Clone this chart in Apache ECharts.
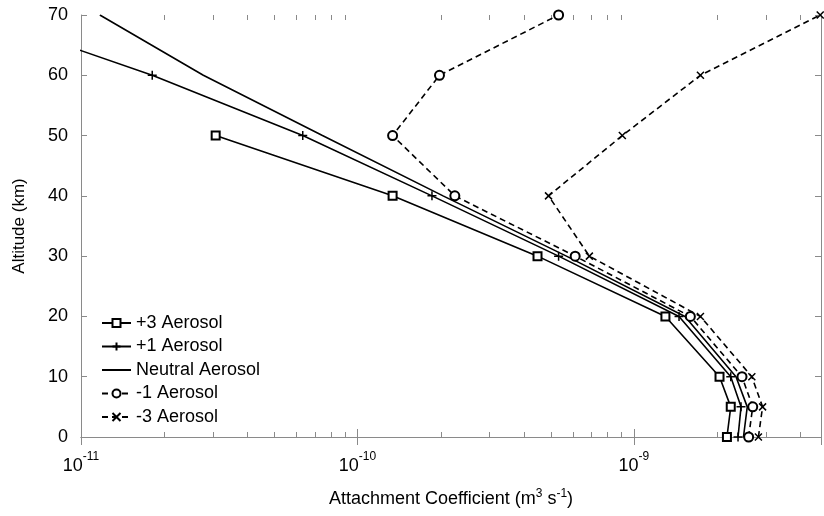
<!DOCTYPE html>
<html>
<head>
<meta charset="utf-8">
<script src="https://cdn.jsdelivr.net/npm/echarts@6/dist/echarts.min.js"></script>
<style>html,body{margin:0;padding:0;background:#fff}#c{width:824px;height:516px}</style>
</head>
<body>
<div id="c"></div>
<script>
// ---- data ----
var altitudes = [0, 5, 10, 20, 30, 40, 50, 60, 70];
var plus3   = [2.17e-9, 2.24e-9, 2.04e-9, 1.30e-9, 4.48e-10, 1.34e-10, 3.07e-11, null, null];
var plus1   = [2.38e-9, 2.44e-9, 2.24e-9, 1.456e-9, 5.34e-10, 1.86e-10, 6.34e-11, 1.81e-11, 4.25e-12];
var neutral = [2.49e-9, 2.57e-9, 2.34e-9, 1.53e-9, 5.70e-10, 2.04e-10, 7.47e-11, 2.77e-11, 1.17e-11];
var minus1  = [2.60e-9, 2.69e-9, 2.46e-9, 1.60e-9, 6.13e-10, 2.25e-10, 1.34e-10, 1.98e-10, 5.34e-10];
var minus3  = [2.82e-9, 2.92e-9, 2.67e-9, 1.74e-9, 6.90e-10, 4.91e-10, 9.08e-10, 1.74e-9, 4.72e-9];
var seriesNames = ['+3 Aerosol', '+1 Aerosol', 'Neutral Aerosol', '-1 Aerosol', '-3 Aerosol'];
var xMin = 1e-11, xMax = 4.75e-9;
var yMin = 0, yMax = 70, yStep = 10;
var minorMultipliers = [2, 3, 4, 5, 6, 7, 8, 9];
var decades = [1e-11, 1e-10, 1e-9];

function pairs(vals) {
  var out = [];
  for (var i = 0; i < altitudes.length; i++) {
    if (vals[i] != null) out.push([vals[i], altitudes[i]]);
  }
  return out;
}
var minorTicks = [];
decades.forEach(function (d) {
  minorMultipliers.forEach(function (m) {
    var v = d * m;
    if (v < xMax) minorTicks.push([v, 0]);
  });
});

var FONT = '"Liberation Sans", Arial, sans-serif';
var AXIS_COLOR = '#8a8a8a';
var plusPath = 'path://M0,5L10,5M5,0L5,10';
var crossPath = 'path://M0,0L10,10M10,0L0,10';

function mkLine(name, vals, symbol, size, dashed) {
  return {
    name: name, type: 'line', data: pairs(vals),
    symbol: symbol, symbolSize: size, showSymbol: symbol !== 'none',
    lineStyle: { color: '#000', width: 1.6, type: dashed ? [6, 4] : 'solid' },
    itemStyle: { color: '#000', borderColor: '#000', borderWidth: 1.5 },
    emphasis: { disabled: true }, animation: false, z: 3
  };
}

var chart = echarts.init(document.getElementById('c'), null, { renderer: 'canvas' });
var xLabelRich = {
  b: { fontSize: 18, fontFamily: FONT, color: '#000' },
  s: { fontSize: 12, fontFamily: FONT, color: '#000', padding: [0, 0, 19, 0] }
};
var legendData = seriesNames.map(function (n, i) {
  return i === 2 ? { name: n, itemStyle: { opacity: 0 } } : { name: n };
});
var option = {
  animation: false,
  textStyle: { fontFamily: FONT },
  grid: { left: 81, right: 0, top: 15, bottom: 79 },
  xAxis: [{
    type: 'log', logBase: 10, min: xMin, max: xMax, position: 'bottom',
    axisLine: { show: true, lineStyle: { color: AXIS_COLOR, width: 1 } },
    axisTick: { show: true, inside: true, length: 8, lineStyle: { color: AXIS_COLOR } },
    splitLine: { show: false },
    axisLabel: {
      margin: 14, color: '#000',
      formatter: function (v) {
        var l = Math.log10(v), e = Math.round(l);
        if (Math.abs(l - e) > 1e-6) return '';
        return '{b|10}{s|' + e + '}';
      },
      rich: xLabelRich
    },
    name: '{a|Attachment Coefficient (m}{s|3}{a| s}{s|-1}{a|)}',
    nameLocation: 'middle', nameGap: 51,
    nameTextStyle: {
      rich: {
        a: { fontSize: 18, fontFamily: FONT, color: '#000' },
        s: { fontSize: 12, fontFamily: FONT, color: '#000', padding: [0, 0, 11, 0] }
      }
    }
  }, {
    type: 'log', logBase: 10, min: xMin, max: xMax, position: 'top',
    axisLine: { show: true, lineStyle: { color: AXIS_COLOR, width: 1 } },
    axisTick: { show: true, inside: true, length: 8, lineStyle: { color: AXIS_COLOR } },
    axisLabel: { show: false }, splitLine: { show: false }
  }],
  yAxis: [{
    type: 'value', min: yMin, max: yMax, interval: yStep, position: 'left',
    axisLine: { show: true, lineStyle: { color: AXIS_COLOR, width: 1 } },
    axisTick: { show: true, inside: true, length: 6, lineStyle: { color: AXIS_COLOR } },
    splitLine: { show: false },
    axisLabel: { margin: 13, fontSize: 18, color: '#000', fontFamily: FONT },
    name: 'Altitude (km)', nameLocation: 'middle', nameGap: 53,
    nameTextStyle: { fontSize: 17, color: '#000', fontFamily: FONT }
  }, {
    type: 'value', min: yMin, max: yMax, interval: yStep, position: 'right',
    axisLine: { show: true, lineStyle: { color: AXIS_COLOR, width: 1 } },
    axisTick: { show: true, inside: true, length: 6, lineStyle: { color: AXIS_COLOR } },
    axisLabel: { show: false }, splitLine: { show: false }
  }],
  legend: {
    data: legendData, orient: 'vertical', left: 101, top: 314, padding: 0,
    itemWidth: 29, itemHeight: 10, itemGap: 5.5,
    textStyle: { fontSize: 18, color: '#000', fontFamily: FONT },
    selectedMode: false
  },
  series: [
    mkLine(seriesNames[0], plus3, 'emptyRect', 8, false),
    mkLine(seriesNames[1], plus1, plusPath, 9, false),
    mkLine(seriesNames[2], neutral, 'none', 0, false),
    mkLine(seriesNames[3], minus1, 'emptyCircle', 9, true),
    mkLine(seriesNames[4], minus3, crossPath, 7, true),
    {
      type: 'custom', name: 'minorTicks', data: minorTicks, silent: true, z: 1,
      encode: { x: 0, y: 1 },
      renderItem: function (params, api) {
        var v = api.value(0);
        var pb = api.coord([v, yMin]);
        var pt = api.coord([v, yMax]);
        var x = Math.round(pb[0]) + 0.5;
        return {
          type: 'group', children: [
            { type: 'line', shape: { x1: x, y1: pb[1], x2: x, y2: pb[1] - 5 }, style: { stroke: AXIS_COLOR, lineWidth: 1 } },
            { type: 'line', shape: { x1: x, y1: pt[1], x2: x, y2: pt[1] + 5 }, style: { stroke: AXIS_COLOR, lineWidth: 1 } }
          ]
        };
      }
    }
  ]
};
chart.setOption(option);
</script>
</body>
</html>
